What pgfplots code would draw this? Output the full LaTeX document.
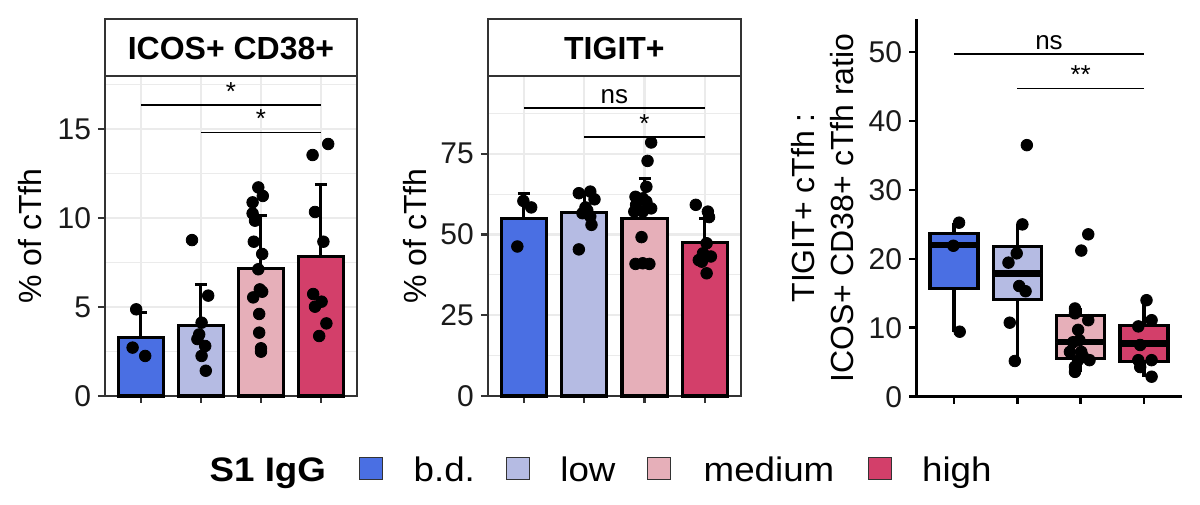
\documentclass[border=0pt]{standalone}
\usepackage{fontspec}
\setmainfont{Liberation Sans}
\newfontfamily\legfont{Liberation Sans}[FakeStretch=1.08]
\usepackage{pgfplots}
\pgfplotsset{compat=1.18}
\usepgfplotslibrary{statistics}
\definecolor{cbd}{HTML}{4A6FE3}
\definecolor{clo}{HTML}{B5BBE3}
\definecolor{cme}{HTML}{E6AFB9}
\definecolor{chi}{HTML}{D33F6A}
\definecolor{gridc}{HTML}{EBEBEB}
\definecolor{framec}{HTML}{333333}
\definecolor{labc}{HTML}{1A1A1A}

\tikzset{siglab/.style={anchor=base, inner sep=0pt, yshift=2.5bp, font=\fontsize{13bp}{15bp}\selectfont}}
\pgfplotsset{
  bwpanel/.style={
    scale only axis, anchor=south west,
    xmin=0.4, xmax=4.6, ymin=0,
    xtick={1,2,3,4}, xticklabels={},
    tick align=outside, xtick pos=bottom, ytick pos=left,
    major tick length=3.5bp, minor tick length=0pt,
    every tick/.style={draw=framec, line width=1.1bp},
    axis line style={draw=framec, line width=0.75bp},
    xmajorgrids, ymajorgrids, yminorgrids,
    major grid style={draw=gridc, line width=1.1bp},
    minor grid style={draw=gridc, line width=0.55bp},
    tick label style={font=\fontsize{15bp}{17bp}\selectfont, text=labc},
    /pgf/number format/assume math mode=true,
    ylabel style={font=\fontsize{16bp}{19bp}\selectfont, anchor=center},
    clip=false,
  },
  mybar/.style={ybar, bar width=0.75, bar shift=0pt, draw=black, line width=1.6bp},
  errln/.style={black, line width=1.5bp, mark=none},
  pts/.style={only marks, mark=*, mark size=2.9bp, draw=black, fill=black},
  sig/.style={black, line width=0.85bp, mark=none},
  mybox/.style={draw=black, line width=1.6bp, solid},
}

\begin{document}
\begin{tikzpicture}
\useasboundingbox (0,0) rectangle (600bp,252.5bp);

% ---------------- Panel 1 ----------------
\begin{axis}[bwpanel, name=p1, at={(52.5bp,54.5bp)}, width=126bp, height=160bp,
  ymax=17.98, ytick={0,5,10,15}, minor ytick={2.5,7.5,12.5,17.5},
  ylabel={\% of cTfh}, ylabel style={at={(axis description cs:-0.298,0.5)}}]
% error bars (mean + SD)
\addplot[errln] coordinates {(1,3.30) (1,4.68)};
\addplot[errln] coordinates {(0.9,4.68) (1.1,4.68)};
\addplot[errln] coordinates {(2,3.95) (2,6.25)};
\addplot[errln] coordinates {(1.9,6.25) (2.1,6.25)};
\addplot[errln] coordinates {(3,7.15) (3,10.15)};
\addplot[errln] coordinates {(2.9,10.15) (3.1,10.15)};
\addplot[errln] coordinates {(4,7.83) (4,11.91)};
\addplot[errln] coordinates {(3.9,11.91) (4.1,11.91)};
% bars (means)
\addplot[mybar, fill=cbd] coordinates {(1,3.30)};
\addplot[mybar, fill=clo] coordinates {(2,3.95)};
\addplot[mybar, fill=cme] coordinates {(3,7.15)};
\addplot[mybar, fill=chi] coordinates {(4,7.83)};
\addplot[pts] coordinates {(0.92,4.87) (0.86,2.72) (1.07,2.25)};
\addplot[pts] coordinates {(1.85,8.76) (2.12,5.64) (2.01,4.12) (1.97,3.46) (1.94,3.20) (2.07,2.81) (2.01,2.25) (2.08,1.42)};
\addplot[pts] coordinates {(2.955,11.72) (3.03,11.24) (2.86,10.88) (2.86,10.26) (2.90,9.85) (2.88,8.67) (3.02,7.98) (2.955,7.12) (2.98,5.99) (3.02,5.86) (2.87,5.54) (2.97,4.61) (2.97,3.56) (3.00,2.68) (3.00,2.49)};
\addplot[pts] coordinates {(4.12,14.16) (3.86,13.54) (3.90,10.34) (4.04,8.67) (3.87,5.73) (4.01,5.30) (3.90,5.02) (4.09,4.08) (3.97,3.37)};
\addplot[sig] coordinates {(1,16.35) (4,16.35)};
\addplot[sig] coordinates {(2,14.80) (4,14.80)};
\node[siglab] at (axis cs:2.5,16.35) {*};
\node[siglab] at (axis cs:3,14.80) {*};
\end{axis}
\draw[draw=framec, line width=0.75bp, fill=white] (p1.north west) rectangle ([yshift=28.5bp]p1.north east);
\node[anchor=base, inner sep=0pt, font=\bfseries\fontsize{16bp}{19bp}\selectfont] at ([yshift=8.35bp]p1.north) {ICOS+ CD38+};

% ---------------- Panel 2 ----------------
\begin{axis}[bwpanel, name=p2, at={(243.9bp,54.5bp)}, width=126.6bp, height=160bp,
  ymax=99.1, ytick={0,25,50,75}, minor ytick={12.5,37.5,62.5,87.5},
  ylabel={\% of cTfh}, ylabel style={at={(axis description cs:-0.287,0.5)}}]
\addplot[errln] coordinates {(1,55.0) (1,62.8)};
\addplot[errln] coordinates {(0.9,62.8) (1.1,62.8)};
\addplot[errln] coordinates {(2,56.9) (2,62.5)};
\addplot[errln] coordinates {(1.9,62.5) (2.1,62.5)};
\addplot[errln] coordinates {(3,55.0) (3,67.2)};
\addplot[errln] coordinates {(2.9,67.2) (3.1,67.2)};
\addplot[errln] coordinates {(4,47.5) (4,55.0)};
\addplot[errln] coordinates {(3.9,55.0) (4.1,55.0)};
\addplot[mybar, fill=cbd] coordinates {(1,55.0)};
\addplot[mybar, fill=clo] coordinates {(2,56.9)};
\addplot[mybar, fill=cme] coordinates {(3,55.0)};
\addplot[mybar, fill=chi] coordinates {(4,47.5)};
\addplot[pts] coordinates {(0.99,60.4) (1.12,58.4) (0.89,46.3)};
\addplot[pts] coordinates {(1.91,62.8) (2.10,63.3) (2.17,60.9) (2.02,58.4) (1.97,56.6) (2.10,55.6) (2.12,53.0) (1.91,45.4) (2.05,57.5)};
\addplot[pts] coordinates {(3.11,78.5) (3.05,72.8) (3.03,64.8) (2.85,61.7) (2.97,61.2) (2.86,59.2) (3.03,60.2) (3.11,58.1) (2.83,57.1) (2.97,57.1) (2.95,49.2) (2.85,40.9) (3.08,40.9) (2.97,41.1)};
\addplot[pts] coordinates {(3.85,59.2) (4.05,57.1) (4.07,55.4) (4.03,47.3) (3.97,44.2) (3.95,41.6) (4.03,38.0) (4.10,43.2) (3.90,42.1)};
\addplot[sig] coordinates {(1,89.1) (4,89.1)};
\addplot[sig] coordinates {(2,80.1) (4,80.1)};
\node[siglab] at (axis cs:2.5,89.1) {ns};
\node[siglab] at (axis cs:3,80.1) {*};
\end{axis}
\draw[draw=framec, line width=0.75bp, fill=white] (p2.north west) rectangle ([yshift=28.5bp]p2.north east);
\node[anchor=base, inner sep=0pt, font=\bfseries\fontsize{16bp}{19bp}\selectfont] at ([yshift=8.35bp]p2.north) {TIGIT+};

% ---------------- Panel 3 ----------------
\begin{axis}[name=p3, scale only axis, anchor=south west, at={(458bp,54.15bp)}, width=133bp, height=188.85bp,
  xmin=0.4, xmax=4.6, ymin=0, ymax=54.8,
  axis lines*=left, axis line style={draw=black, line width=1.5bp},
  tick align=outside, major tick length=3.5bp,
  every tick/.style={draw=black, line width=1.3bp},
  xtick={1,2,3,4}, xticklabels={}, ytick={0,10,20,30,40,50},
  tick label style={font=\fontsize{15bp}{17bp}\selectfont, text=labc},
  /pgf/number format/assume math mode=true,
  boxplot/draw direction=y,
  ylabel={TIGIT+ cTfh :\\ICOS+ CD38+ cTfh ratio},
  ylabel style={font=\fontsize{16bp}{19.5bp}\selectfont, align=center, anchor=center, at={(axis description cs:-0.350,0.5)}},
  clip=false]
\addplot[mybox, fill=cbd, boxplot prepared={draw position=1, lower whisker=9.43, lower quartile=15.7, median=22.0, upper quartile=23.7, upper whisker=25.25, box extend=0.76, whisker extend=0, every median/.style={line width=3.2bp}}] coordinates {};
\addplot[mybox, fill=clo, boxplot prepared={draw position=2, lower whisker=5.18, lower quartile=14.1, median=17.9, upper quartile=21.85, upper whisker=25.0, box extend=0.76, whisker extend=0, every median/.style={line width=3.2bp}}] coordinates {};
\addplot[mybox, fill=cme, boxplot prepared={draw position=3, lower whisker=3.6, lower quartile=5.6, median=7.9, upper quartile=11.8, upper whisker=12.8, box extend=0.76, whisker extend=0, every median/.style={line width=3.2bp}}] coordinates {};
\addplot[mybox, fill=chi, boxplot prepared={draw position=4, lower whisker=2.9, lower quartile=5.1, median=7.7, upper quartile=10.3, upper whisker=14.0, box extend=0.76, whisker extend=0, every median/.style={line width=3.2bp}}] coordinates {};
\addplot[pts] coordinates {(1.08,25.25) (0.99,21.9) (1.09,9.43)};
\addplot[pts] coordinates {(2.08,25.0) (1.99,20.8) (1.86,19.45) (2.03,16.06) (2.13,15.3) (1.88,10.74) (1.96,5.18) (2.15,36.5)};
\addplot[pts] coordinates {(3.12,23.56) (3.01,21.2) (2.91,12.8) (2.91,12.1) (3.12,11.1) (2.96,9.7) (2.98,8.2) (2.88,7.9) (3.01,6.5) (2.83,6.5) (3.14,5.3) (2.96,5.3) (3.04,5.8) (2.91,4.35) (2.91,3.6)};
\addplot[pts] coordinates {(4.04,14.0) (4.12,11.1) (3.91,10.2) (3.94,7.5) (3.91,5.3) (4.12,5.3) (3.94,4.3) (4.12,2.9)};
\addplot[sig] coordinates {(1,49.7) (4,49.7)};
\addplot[sig] coordinates {(2,44.7) (4,44.7)};
\node[siglab] at (axis cs:2.5,49.7) {ns};
\node[siglab] at (axis cs:3,44.7) {**};
\end{axis}

% ---------------- Legend ----------------
\node[anchor=base west, inner sep=0pt, font=\legfont\bfseries\fontsize{17bp}{20bp}\selectfont] at (104.65bp,11.65bp) {S1 IgG};
\filldraw[fill=cbd, draw=framec, line width=0.5bp] (179.65bp,12.85bp) rectangle (191.35bp,23.85bp);
\node[anchor=base west, inner sep=0pt, font=\legfont\fontsize{17bp}{20bp}\selectfont] at (206.65bp,11.65bp) {b.d.};
\filldraw[fill=clo, draw=framec, line width=0.5bp] (253bp,12.85bp) rectangle (264.65bp,23.85bp);
\node[anchor=base west, inner sep=0pt, font=\legfont\fontsize{17bp}{20bp}\selectfont] at (280bp,11.65bp) {low};
\filldraw[fill=cme, draw=framec, line width=0.5bp] (323.85bp,12.85bp) rectangle (335.35bp,23.85bp);
\node[anchor=base west, inner sep=0pt, font=\legfont\fontsize{17bp}{20bp}\selectfont] at (351.65bp,11.65bp) {medium};
\filldraw[fill=chi, draw=framec, line width=0.5bp] (434.15bp,12.85bp) rectangle (445.85bp,23.85bp);
\node[anchor=base west, inner sep=0pt, font=\legfont\fontsize{17bp}{20bp}\selectfont] at (460.85bp,11.65bp) {high};
\end{tikzpicture}
\end{document}
